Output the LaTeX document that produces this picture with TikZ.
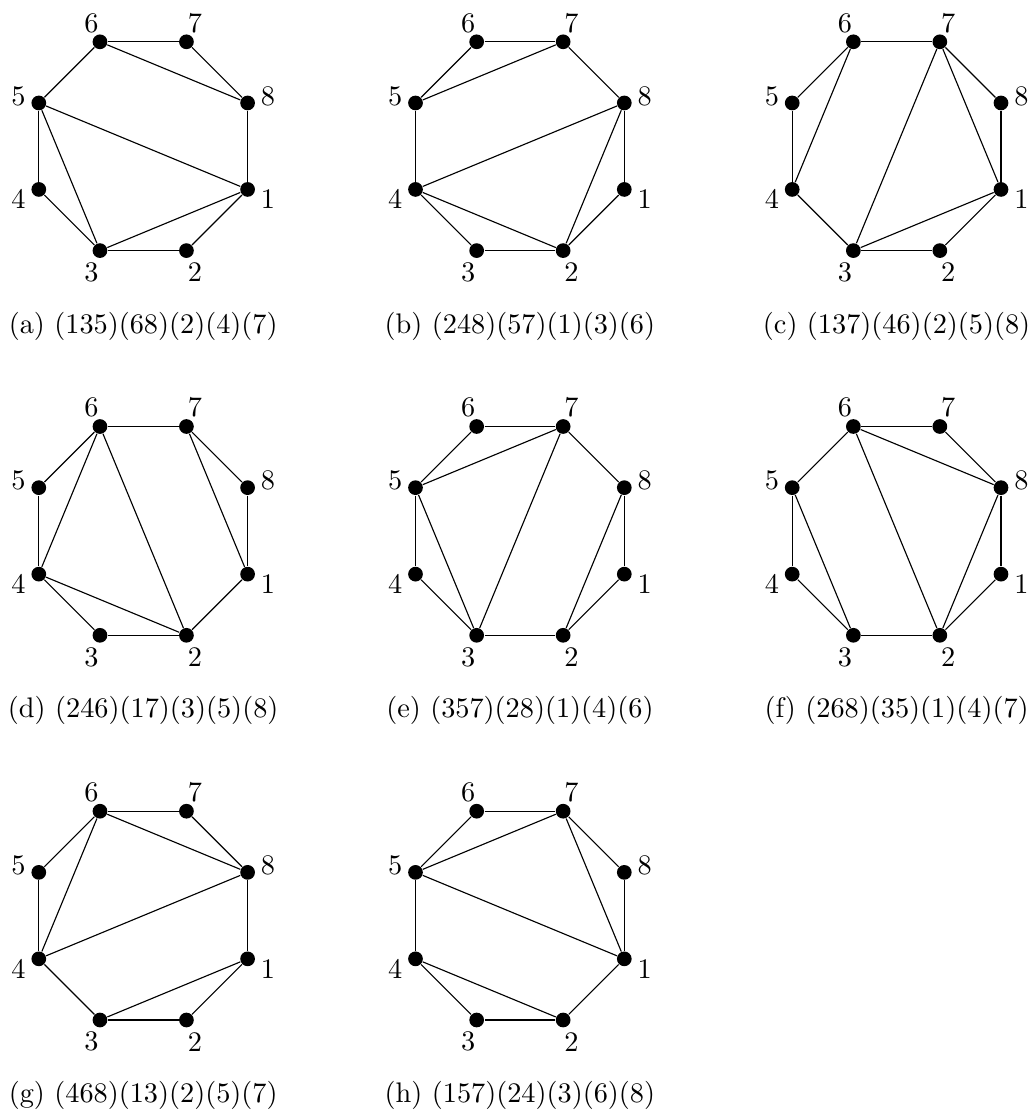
\documentclass[tikz,border=0pt]{standalone}
\usetikzlibrary{calc}
\newcommand\octpanel[9]{%
  \foreach \k in {1,...,8}{%
    \node[vtx] (#1-\k) at ($(#2,#3)+({22.5+45*(\k-1)}:113)$) {};
    \node[lbl] (#1-l\k) at ($(#2,#3)+({22.5+45*(\k-1)}:135)+(0,1.5)$) {\k};
  }
  \foreach \k [evaluate=\k as \j using {int(mod(\k,8)+1)}] in {1,...,8}{%
    \draw[edge] (#1-\k) -- (#1-\j);
  }
  \draw[edge] (#1-#4) -- (#1-#5);
  \draw[edge] (#1-#5) -- (#1-#6);
  \draw[edge] (#1-#6) -- (#1-#4);
  \draw[edge] (#1-#7) -- (#1-#8);
  \node[captext] (#1-cap) at ($(#2,#3)+(0,179.8)$) {#9};
}
\begin{document}
\begin{tikzpicture}[x=0.3534pt,y=-0.3534pt,
  vtx/.style={circle,fill=black,inner sep=0pt,minimum size=5.2pt},
  edge/.style={line width=0.4pt},
  lbl/.style={inner sep=0pt},
  captext/.style={inner sep=0pt}]
\useasboundingbox (0,0) rectangle (1034,1114);
\octpanel{a}{143.2}{146.2}{1}{3}{5}{6}{8}{(a) (135)(68)(2)(4)(7)}
\octpanel{b}{519.9}{146.2}{2}{4}{8}{5}{7}{(b) (248)(57)(1)(3)(6)}
\octpanel{c}{896.6}{146.2}{1}{3}{7}{4}{6}{(c) (137)(46)(2)(5)(8)}
\octpanel{d}{143.2}{530.9}{2}{4}{6}{1}{7}{(d) (246)(17)(3)(5)(8)}
\octpanel{e}{519.9}{530.9}{3}{5}{7}{2}{8}{(e) (357)(28)(1)(4)(6)}
\octpanel{f}{896.6}{530.9}{2}{6}{8}{3}{5}{(f) (268)(35)(1)(4)(7)}
\octpanel{g}{143.2}{915.6}{4}{6}{8}{1}{3}{(g) (468)(13)(2)(5)(7)}
\octpanel{h}{519.9}{915.6}{1}{5}{7}{2}{4}{(h) (157)(24)(3)(6)(8)}
\end{tikzpicture}
\end{document}
